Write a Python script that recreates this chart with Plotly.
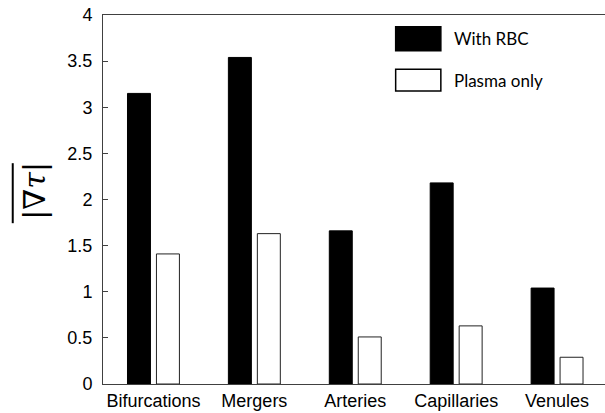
import plotly.graph_objects as go

categories = ["Bifurcations", "Mergers", "Arteries", "Capillaries", "Venules"]
with_rbc = [3.15, 3.54, 1.66, 2.18, 1.04]
plasma_only = [1.41, 1.63, 0.51, 0.63, 0.29]
series_names = ["With RBC", "Plasma only"]
y_ticks = [0, 0.5, 1, 1.5, 2, 2.5, 3, 3.5, 4]
y_tick_labels = ["0", "0.5", "1", "1.5", "2", "2.5", "3", "3.5", "4"]

axis_color = "#404040"

fig = go.Figure()
fig.add_trace(go.Bar(
    x=categories, y=with_rbc, name=series_names[0],
    marker=dict(color="black", line=dict(color="black", width=1)),
    showlegend=False,
))
fig.add_trace(go.Bar(
    x=categories, y=plasma_only, name=series_names[1],
    marker=dict(color="white", line=dict(color="#222222", width=1)),
    showlegend=False,
))

# Hand-drawn legend boxes (paper coordinates) with text labels
legend_x0, legend_x1, legend_text_x = 0.583, 0.673, 0.6946
legend_rows = [(0.9033, 0.9683, "black"), (0.794, 0.8528, "white")]
for (y0, y1, fill), label in zip(legend_rows, series_names):
    fig.add_shape(type="rect", xref="paper", yref="paper",
                  x0=legend_x0, x1=legend_x1, y0=y0, y1=y1,
                  fillcolor=fill, line=dict(color="black", width=1.5))
    fig.add_annotation(xref="paper", yref="paper", x=legend_text_x, y=(y0 + y1) / 2,
                       text=label, showarrow=False, xanchor="left", yanchor="middle",
                       font=dict(family="Lato, Carlito, sans-serif", size=17, color="black"))

# y-axis quantity: overlined |∇τ|
fig.add_annotation(xref="paper", yref="paper", x=-0.138, y=0.523,
                   text="|∇<i>τ</i>|", showarrow=False, textangle=-90,
                   xanchor="center", yanchor="middle",
                   font=dict(family="DejaVu Serif, serif", size=30, color="black"))
fig.add_shape(type="line", xref="paper", yref="paper",
              x0=-0.1798, x1=-0.1798, y0=0.4358, y1=0.5984,
              line=dict(color="black", width=2))

fig.update_layout(
    width=605, height=413,
    margin=dict(l=103, r=0, t=15, b=29),
    paper_bgcolor="white", plot_bgcolor="white",
    barmode="group", bargap=0.426, bargroupgap=0.207,
    font=dict(family="Liberation Sans, Arial, sans-serif", size=18, color="black"),
    xaxis=dict(
        range=[-0.5, 4.475], showline=True, linecolor=axis_color, linewidth=1,
        mirror=True, ticks="", showgrid=False, zeroline=False,
        tickfont=dict(size=18),
    ),
    yaxis=dict(
        range=[0, 4], tickvals=y_ticks, ticktext=y_tick_labels,
        showline=True, linecolor=axis_color, linewidth=1,
        ticks="inside", ticklen=5, tickcolor=axis_color,
        showgrid=False, zeroline=False, ticklabelstandoff=6,
        tickfont=dict(size=18),
    ),
)

fig.write_html("out.html")
